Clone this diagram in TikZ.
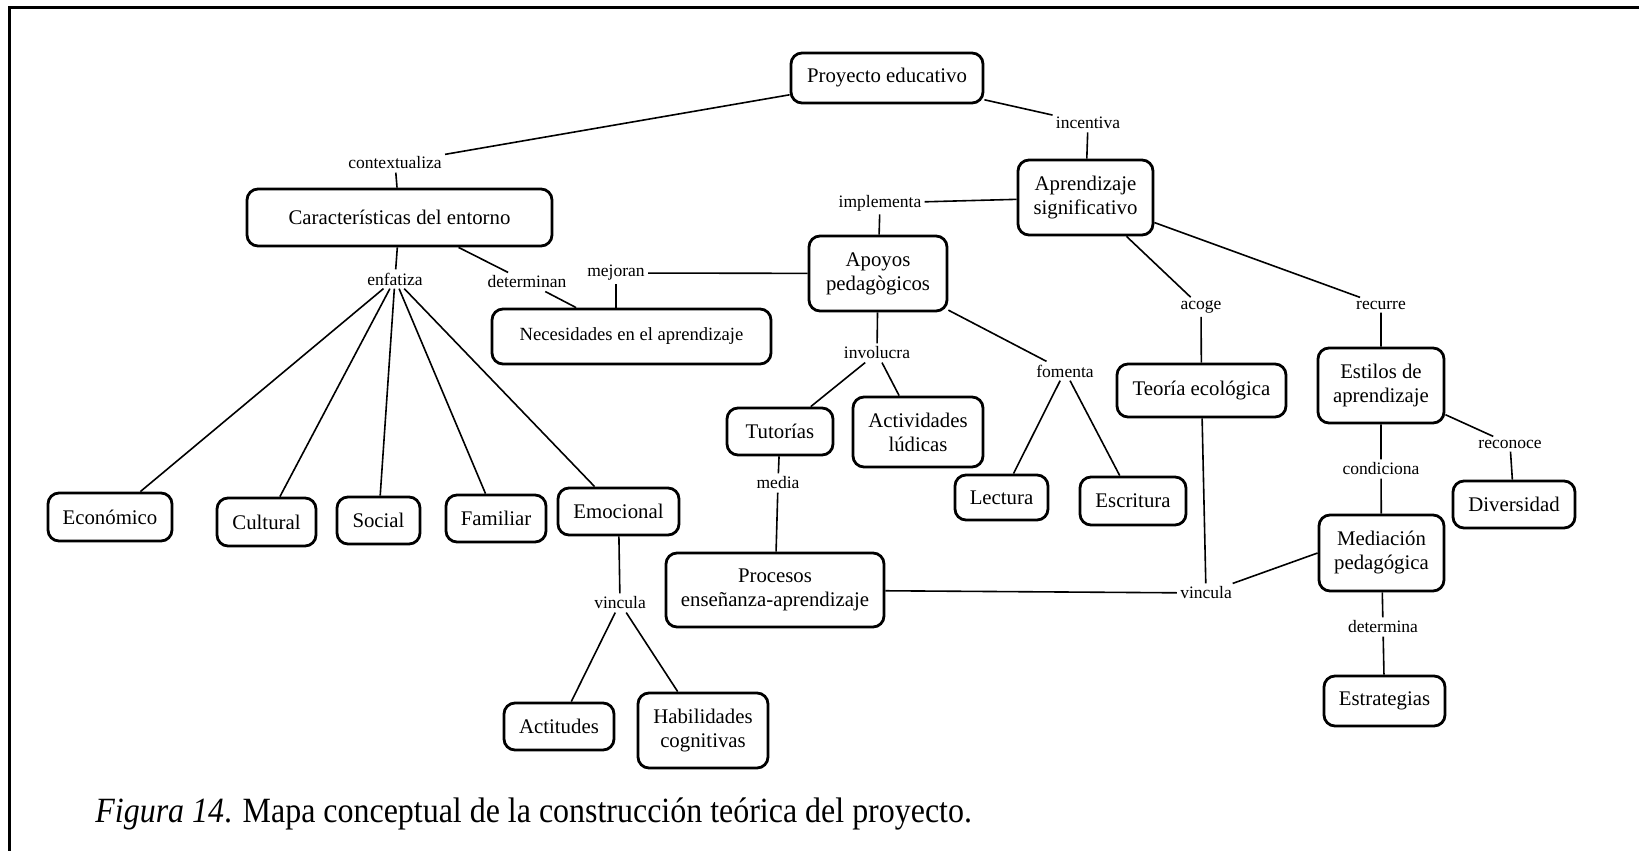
\documentclass[tikz,border=0pt]{standalone}
\usepackage{graphicx}
\usepackage{fontspec}
\setmainfont{Liberation Serif}
\begin{document}
\begin{tikzpicture}[
        x=0.5pt, y=-0.5pt,
        every node/.style={font=\fontsize{10.4}{12}\selectfont},
        concept/.style={rectangle, draw=black, line width=1.4pt, fill=white, align=center, inner sep=0pt, rounded corners=5.5pt},
        linkword/.style={font=\fontsize{8.75}{10}\selectfont, inner sep=1.5pt},
        link/.style={draw=black, line width=0.8pt}
        ]

        % Page frame
        \useasboundingbox (0,0) rectangle (1639,851);
        \draw[line width=1.5pt] (9,851) -- (9,7) -- (1639,7);

        % Top concepts
        \node[concept, minimum width=96pt, minimum height=25pt] (proyecto) at (887,78) {Proyecto educativo};
        \node[concept, minimum width=152.5pt, minimum height=28.5pt] (entorno) at (399.5,217.5) {Características del entorno};
        \node[concept, minimum width=67.5pt, minimum height=37.5pt] (aprendizaje) at (1085.5,197.5) {Aprendizaje\\significativo};
        \node[concept, minimum width=69pt, minimum height=37.5pt] (apoyos) at (878,273.5) {Apoyos\\pedagògicos};
        \node[concept, minimum width=139.5pt, minimum height=27.5pt, font=\fontsize{9.3}{11}\selectfont] (necesidades) at (631.5,336.5) {Necesidades en el aprendizaje};
        \node[concept, minimum width=84.5pt, minimum height=26.5pt] (teoria) at (1201.5,390.5) {Teoría ecológica};
        \node[concept, minimum width=63pt, minimum height=37.5pt] (estilos) at (1381,385.5) {Estilos de\\aprendizaje};

        % Middle concepts
        \node[concept, minimum width=53pt, minimum height=23.5pt] (tutorias) at (780,431.5) {Tutorías};
        \node[concept, minimum width=65pt, minimum height=35pt] (ludicas) at (918,432) {Actividades\\lúdicas};
        \node[concept, minimum width=46.5pt, minimum height=22.5pt] (lectura) at (1001.5,497.5) {Lectura};
        \node[concept, minimum width=53pt, minimum height=24pt] (escritura) at (1133,501) {Escritura};
        \node[concept, minimum width=61pt, minimum height=23.5pt] (diversidad) at (1514,504.5) {Diversidad};
        \node[concept, minimum width=62.5pt, minimum height=38pt] (mediacion) at (1381.5,553) {Mediación\\pedagógica};
        \node[concept, minimum width=109pt, minimum height=37pt] (procesos) at (775,590) {Procesos\\enseñanza-aprendizaje};

        % Left row
        \node[concept, minimum width=62pt, minimum height=24pt] (economico) at (110,517) {Económico};
        \node[concept, minimum width=49.5pt, minimum height=24pt] (cultural) at (266.5,522) {Cultural};
        \node[concept, minimum width=41.5pt, minimum height=23.5pt] (social) at (378.5,520.5) {Social};
        \node[concept, minimum width=50pt, minimum height=23.5pt] (familiar) at (496,518.5) {Familiar};
        \node[concept, minimum width=60.5pt, minimum height=23.5pt] (emocional) at (618.5,511.5) {Emocional};

        % Bottom concepts
        \node[concept, minimum width=55pt, minimum height=23.5pt] (actitudes) at (559,726.5) {Actitudes};
        \node[concept, minimum width=65pt, minimum height=37.5pt] (habilidades) at (703,730.5) {Habilidades\\cognitivas};
        \node[concept, minimum width=60.5pt, minimum height=25pt] (estrategias) at (1384.5,701) {Estrategias};

        % Linking words
        \node[linkword] (contextualiza) at (395,163) {contextualiza};
        \node[linkword] (incentiva) at (1088,123) {incentiva};
        \node[linkword] (enfatiza) at (395,279) {enfatiza};
        \node[linkword] (determinan) at (527,282) {determinan};
        \node[linkword] (mejoran) at (616,273) {mejoran};
        \node[linkword] (implementa) at (880,203) {implementa};
        \node[linkword] (acoge) at (1201,307) {acoge};
        \node[linkword] (recurre) at (1381,305) {recurre};
        \node[linkword] (involucra) at (877,353) {involucra};
        \node[linkword] (fomenta) at (1065,371) {fomenta};
        \node[linkword] (media) at (778,483) {media};
        \node[linkword] (vinculaA) at (620,603) {vincula};
        \node[linkword] (vinculaB) at (1206,593) {vincula};
        \node[linkword] (condiciona) at (1381,469) {condiciona};
        \node[linkword] (reconoce) at (1510,444) {reconoce};
        \node[linkword] (determina) at (1383,627) {determina};

        % Connections
        \draw[link] (proyecto) -- (contextualiza) -- (entorno);
        \draw[link] (proyecto) -- (incentiva) -- (aprendizaje);
        \draw[link] (entorno) -- (enfatiza);
        \foreach \n in {economico, cultural, social, familiar, emocional}
            \draw[link] (enfatiza) -- (\n);
        \draw[link] (entorno) -- (determinan) -- (necesidades);
        \draw[link] (apoyos) -- (mejoran);
        \draw[link] (mejoran) -- (mejoran |- necesidades.north);
        \draw[link] (aprendizaje) -- (implementa) -- (apoyos);
        \draw[link] (aprendizaje) -- (acoge) -- (teoria);
        \draw[link] (aprendizaje) -- (recurre) -- (estilos);
        \draw[link] (apoyos) -- (involucra);
        \draw[link] (involucra) -- (tutorias);
        \draw[link] (involucra) -- (ludicas);
        \draw[link] (apoyos) -- (fomenta);
        \draw[link] (fomenta) -- (lectura);
        \draw[link] (fomenta) -- (escritura);
        \draw[link] (tutorias) -- (media) -- (procesos);
        \draw[link] (emocional) -- (vinculaA);
        \draw[link] (vinculaA) -- (actitudes);
        \draw[link] (vinculaA) -- (habilidades);
        \draw[link] (procesos) -- (vinculaB);
        \draw[link] (teoria) -- (vinculaB);
        \draw[link] (vinculaB) -- (mediacion.west);
        \draw[link] (estilos) -- (condiciona) -- (mediacion);
        \draw[link] (estilos) -- (reconoce) -- (diversidad);
        \draw[link] (mediacion) -- (determina) -- (estrategias);

        % Caption
        \node[anchor=base west, inner sep=0pt, font=\fontsize{17.75}{21}\selectfont] (caption) at (95,822) {\scalebox{0.9}[1]{\textit{Figura 14}. Mapa conceptual de la construcción teórica del proyecto.}};

    \end{tikzpicture}
\end{document}
